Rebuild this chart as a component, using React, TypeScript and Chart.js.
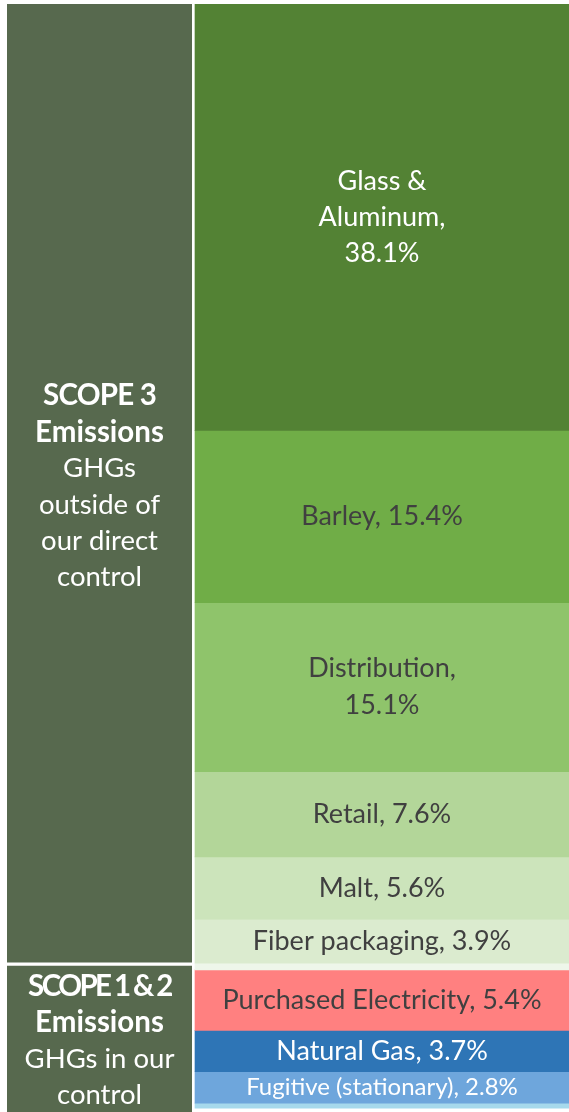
import React, { useEffect, useRef } from 'react';
import { Chart, registerables } from 'chart.js';

Chart.register(...registerables);

// ---- Data ----
const scopeNames = ['SCOPE 3', 'SCOPE 1 & 2'];
const scopeShares = [85.7, 14.3];
const scopeTitleLines = [['SCOPE 3', 'Emissions'], ['SCOPE 1 & 2', 'Emissions']];
const scopeNoteLines = [['GHGs', 'outside of', 'our direct', 'control'], ['GHGs in our', 'control']];

const sourceNames = [
  'Glass &\nAluminum',
  'Barley',
  'Distribution',
  'Retail',
  'Malt',
  'Fiber packaging',
  'Other (Scope 3)',
  'Purchased Electricity',
  'Natural Gas',
  'Fugitive (stationary)',
  'Other (Scope 1 & 2)',
];
const sourceShares = [38.1, 15.4, 15.1, 7.6, 5.6, 3.9, 0.6, 5.4, 3.7, 2.8, 0.45];
const sourceShowLabel = [true, true, true, true, true, true, false, true, true, true, false];
const sourcePctOnNewLine = [true, false, true, false, false, false, false, false, false, false, false];
const axisMax = 99;

// ---- Styles ----
const FONT = 'Lato, "Open Sans", sans-serif';
const scopeColor = '#57694e';
const sourceColors = [
  '#538234', '#70ad47', '#8fc46b', '#b3d699', '#cce4bb', '#dbebcf', '#eef6ea',
  '#ff8080', '#2e75b6', '#6ea6dc', '#a6d9ec',
];
const sourceTextColors = [
  '#ffffff', '#404040', '#404040', '#404040', '#404040', '#404040', '#404040',
  '#404040', '#ffffff', '#ffffff', '#404040',
];
const sourceFontSizes = [27, 27, 27, 27, 27, 27, 27, 27, 27, 24, 24];
const sourceLineHeights = [36, 36, 37, 36, 36, 36, 36, 36, 36, 36, 36];

const W = 569;
const H = 1112;
const LEFT = 7;
const SCOPE_W = 185;
const GAP = 3;
const SOURCE_W = W - (LEFT + SCOPE_W + GAP);
const c0 = LEFT + SCOPE_W / 2;
const c1 = LEFT + SCOPE_W + GAP + SOURCE_W / 2;
const unit = c1 - c0;
const xMin = -c0 / unit;
const xMax = xMin + W / unit;

const labelPlugin = {
  id: 'segmentLabels',
  afterDatasetsDraw(chart: any) {
    const ctx = chart.ctx as CanvasRenderingContext2D;
    const area = chart.chartArea;
    chart.data.datasets.forEach((ds: any, i: number) => {
      const el = chart.getDatasetMeta(i).data[0];
      if (!el || !ds.textLines || !ds.textLines.length) return;
      const top = Math.max(Math.min(el.y, el.base), area.top);
      const bottom = Math.min(Math.max(el.y, el.base), area.bottom);
      const cy = (top + bottom) / 2 + (ds.textOffset || 0);
      const lines = ds.textLines as { text: string; font: string; spacing?: number }[];
      const lh = ds.lineHeight;
      const startY = cy - ((lines.length - 1) * lh) / 2;
      ctx.save();
      ctx.fillStyle = ds.textColor;
      ctx.textAlign = 'center';
      ctx.textBaseline = 'middle';
      lines.forEach((ln, k) => {
        ctx.font = ln.font;
        (ctx as any).letterSpacing = (ln.spacing || 0) + 'px';
        ctx.fillText(ln.text, el.x, startY + k * lh);
      });
      ctx.restore();
    });
  },
};

export default function App() {
  const ref = useRef<HTMLCanvasElement | null>(null);

  useEffect(() => {
    document.body.style.margin = '0';
    const canvas = ref.current;
    if (!canvas) return;

    const scopeDatasets = scopeNames.map((name, i) => ({
      label: name,
      data: [{ x: 0, y: scopeShares[i] }],
      backgroundColor: scopeColor,
      borderColor: '#ffffff',
      borderWidth: i === 0 ? { top: 0, left: 0, right: 0, bottom: 1 } : { top: 3, left: 0, right: 0, bottom: 0 },
      borderSkipped: false,
      barThickness: SCOPE_W,
      textColor: '#ffffff',
      lineHeight: 36.3,
      textOffset: 3,
      textLines: [
        ...scopeTitleLines[i].map((t, k) => ({
          text: t,
          font: `bold 29.5px ${FONT}`,
          spacing: k === 0 ? (i === 1 ? -2.6 : -0.8) : 0,
        })),
        ...scopeNoteLines[i].map((t) => ({ text: t, font: `27.5px ${FONT}` })),
      ],
    }));

    const sourceDatasets = sourceNames.map((name, i) => {
      const full = `${name},${sourcePctOnNewLine[i] ? '\n' : ' '}${sourceShares[i]}%`;
      return {
        label: name.replace('\n', ' '),
        data: [{ x: 1, y: sourceShares[i] }],
        backgroundColor: sourceColors[i],
        borderWidth: 0,
        barThickness: SOURCE_W,
        textColor: sourceTextColors[i],
        lineHeight: sourceLineHeights[i],
        textLines: sourceShowLabel[i]
          ? full.split('\n').map((t) => ({ text: t, font: `${sourceFontSizes[i]}px ${FONT}` }))
          : [],
      };
    });

    const chart = new Chart(canvas, {
      type: 'bar',
      data: { datasets: [...scopeDatasets, ...sourceDatasets] as any },
      options: {
        responsive: false,
        animation: false,
        devicePixelRatio: 1,
        layout: { padding: { top: 4, left: 0, right: 0, bottom: 0 } },
        plugins: {
          legend: { display: false },
          tooltip: { enabled: false },
          title: { display: false },
        },
        scales: {
          x: { type: 'linear', display: false, min: xMin, max: xMax, stacked: true, offset: false, bounds: 'ticks', grace: 0 },
          y: { type: 'linear', display: false, reverse: true, min: 0, max: axisMax, stacked: true },
        },
      } as any,
      plugins: [labelPlugin],
    });
    return () => chart.destroy();
  }, []);

  return (
    <div style={{ width: W, height: H, background: '#ffffff' }}>
      <canvas ref={ref} width={W} height={H} style={{ display: 'block', width: W, height: H }} />
    </div>
  );
}
